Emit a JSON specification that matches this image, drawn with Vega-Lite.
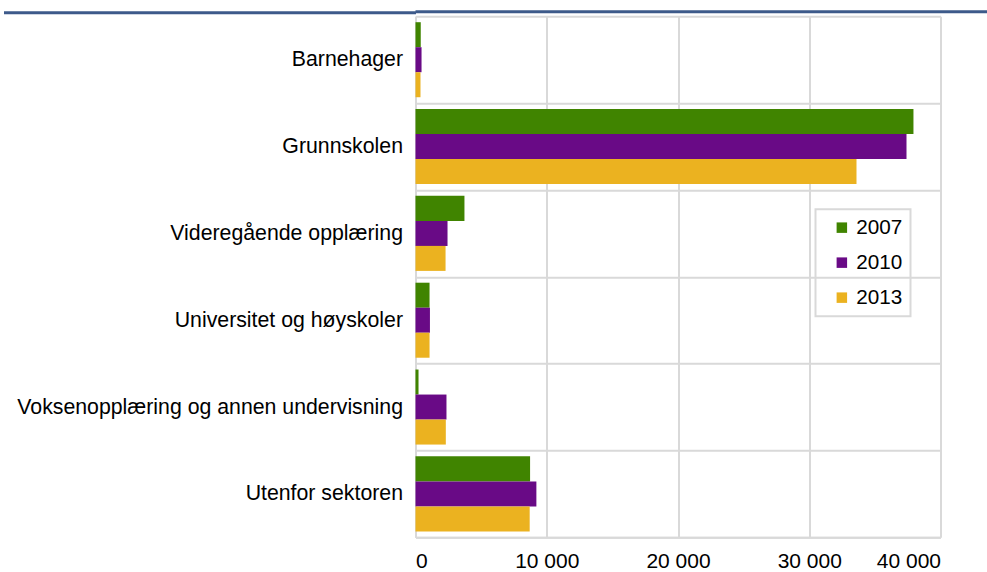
{
  "$schema": "https://vega.github.io/schema/vega-lite/v6.json",
  "padding": {"top": 5.3, "left": 1.5, "right": 0, "bottom": 0},
  "background": "white",
  "config": {
    "font": "Liberation Sans",
    "view": {"stroke": null},
    "axis": {"labelFont": "Liberation Sans", "labelColor": "#000000", "labelFontSize": 21, "gridColor": "#d9d9d9", "gridWidth": 2, "domainColor": "#d9d9d9", "domainWidth": 2, "ticks": false}
  },
  "columns": 1,
  "align": "none",
  "bounds": "flush",
  "spacing": 3,
  "concat": [
    {
      "width": 572,
      "height": 3,
      "view": {"fill": "#3d5a8a", "stroke": null},
      "data": {"values": []},
      "mark": {"type": "rect"},
      "encoding": {
        "y": {
          "datum": 0, "type": "quantitative",
          "scale": {"domain": [-1, 1]},
          "axis": {"title": null, "values": [0], "labels": false, "domain": false, "grid": false, "ticks": true, "tickSize": 412, "tickWidth": 3, "tickColor": "#3d5a8a"}
        }
      }
    },
    {
      "width": 525,
      "height": 521,
      "data": {
        "values": [
          {"sektor": "Barnehager", "year": "2007", "value": 400},
          {"sektor": "Barnehager", "year": "2010", "value": 460},
          {"sektor": "Barnehager", "year": "2013", "value": 380},
          {"sektor": "Grunnskolen", "year": "2007", "value": 37940},
          {"sektor": "Grunnskolen", "year": "2010", "value": 37410},
          {"sektor": "Grunnskolen", "year": "2013", "value": 33600},
          {"sektor": "Videregående opplæring", "year": "2007", "value": 3730},
          {"sektor": "Videregående opplæring", "year": "2010", "value": 2440},
          {"sektor": "Videregående opplæring", "year": "2013", "value": 2290},
          {"sektor": "Universitet og høyskoler", "year": "2007", "value": 1070},
          {"sektor": "Universitet og høyskoler", "year": "2010", "value": 1100},
          {"sektor": "Universitet og høyskoler", "year": "2013", "value": 1070},
          {"sektor": "Voksenopplæring og annen undervisning", "year": "2007", "value": 230},
          {"sektor": "Voksenopplæring og annen undervisning", "year": "2010", "value": 2360},
          {"sektor": "Voksenopplæring og annen undervisning", "year": "2013", "value": 2310},
          {"sektor": "Utenfor sektoren", "year": "2007", "value": 8730},
          {"sektor": "Utenfor sektoren", "year": "2010", "value": 9210},
          {"sektor": "Utenfor sektoren", "year": "2013", "value": 8700}
        ]
      },
      "mark": {"type": "bar"},
      "encoding": {
        "y": {
          "field": "sektor", "type": "nominal",
          "sort": ["Barnehager", "Grunnskolen", "Videregående opplæring", "Universitet og høyskoler", "Voksenopplæring og annen undervisning", "Utenfor sektoren"],
          "scale": {"paddingInner": 0, "paddingOuter": 0},
          "axis": {"title": null, "tickBand": "extent", "grid": true, "labelPadding": 13, "labelLimit": 600, "labelFontSize": 21.3, "domain": true}
        },
        "yOffset": {
          "field": "year", "type": "nominal", "sort": ["2007", "2010", "2013"],
          "scale": {"paddingInner": 0, "paddingOuter": 0.236}
        },
        "x": {
          "field": "value", "type": "quantitative",
          "scale": {"domain": [0, 40000], "nice": false},
          "axis": {"title": null, "values": [0, 10000, 20000, 30000, 40000], "labelPadding": 13, "labelExpr": "replace(format(datum.value, ','), ',', ' ')", "grid": true}
        },
        "color": {
          "field": "year", "type": "nominal",
          "scale": {"domain": ["2007", "2010", "2013"], "range": ["#408400", "#690a86", "#ebb220"]},
          "legend": {
            "title": null, "orient": "none", "legendX": 400, "legendY": 199,
            "symbolType": "square", "symbolSize": 110, "symbolStrokeWidth": 0,
            "labelFontSize": 20.7, "labelFont": "Liberation Sans", "labelColor": "#000000", "labelOffset": 4,
            "rowPadding": 13, "padding": 8, "symbolOffset": 8,
            "strokeColor": "#d9d9d9",
            "labelExpr": "datum.label + '\u00a0\u00a0'",
            "encode": {"legend": {"update": {"strokeWidth": {"value": 2}}}}
          }
        }
      }
    }
  ]
}
